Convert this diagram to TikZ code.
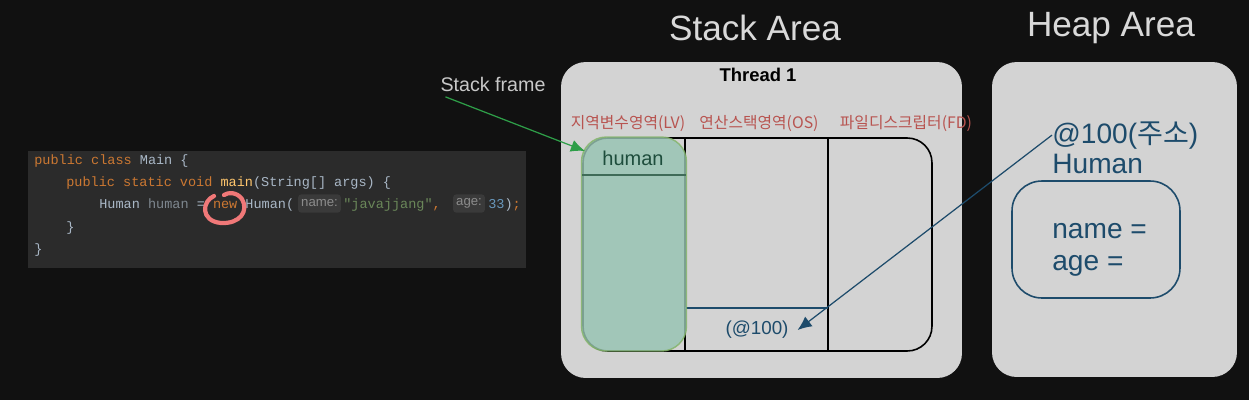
\documentclass[tikz,border=0pt]{standalone}
\usepackage{fontspec}
\setmainfont{Liberation Sans}
\setmonofont{Liberation Mono}
\newfontfamily\kr{Noto Sans CJK KR}
\usetikzlibrary{positioning,arrows.meta}

\definecolor{bgdark}{HTML}{111111}
\definecolor{codebg}{HTML}{2B2B2B}
\definecolor{kw}{HTML}{CC7832}
\definecolor{plain}{HTML}{A9B7C6}
\definecolor{fn}{HTML}{FFC66D}
\definecolor{str}{HTML}{6A8759}
\definecolor{num}{HTML}{6897BB}
\definecolor{unused}{HTML}{7E878F}
\definecolor{hintbg}{HTML}{3A3A3A}
\definecolor{hintfg}{HTML}{8C8C8C}
\definecolor{boxgray}{HTML}{D3D3D3}
\definecolor{lvfill}{HTML}{97C4B3}
\definecolor{lvline}{HTML}{82B366}
\definecolor{lvtext}{HTML}{1E4D3C}
\definecolor{lvdark}{HTML}{3F6B58}
\definecolor{areared}{HTML}{B85450}
\definecolor{navy}{HTML}{1D4B6B}
\definecolor{arrowgreen}{HTML}{2E9E48}
\definecolor{penred}{HTML}{F07878}
\definecolor{titlegray}{HTML}{D9D9D9}
\definecolor{labelgray}{HTML}{C8C8C8}

\begin{document}
\begin{tikzpicture}[x=0.02cm,y=-0.02cm,>={Latex[length=8pt,width=7pt]},
    title/.style={text=titlegray,font=\fontsize{20}{24}\selectfont},
    panelbox/.style={fill=boxgray,rounded corners=14pt,inner sep=0pt},
    code/.style={anchor=base west,inner sep=0pt,font=\ttfamily\fontsize{7.7}{9}\selectfont},
    hint/.style={fill=hintbg,rounded corners=2pt,text=hintfg,inner xsep=1.8pt,inner ysep=0pt,
        minimum height=10.5pt,font=\fontsize{7.5}{9}\selectfont},
    area/.style={text=areared,font=\kr\fontsize{9}{11}\selectfont},
    heaptext/.style={text=navy,anchor=base west,inner sep=0pt,font=\fontsize{16}{19}\selectfont}]
    \useasboundingbox (0,0) rectangle (1249,400);
    \fill[bgdark] (0,0) rectangle (1249,400);

    % code
    \node (codebox) [fill=codebg,minimum width=9.96cm,minimum height=2.34cm,inner sep=0pt] at (277,209.5) {};
    \node (l1) [code] at (34,164.5) {\textcolor{kw}{public class} \textcolor{plain}{Main \{}};
    \node (l2) [code] at (66,186.7) {\textcolor{kw}{public static void} \textcolor{fn}{main}\textcolor{plain}{(String[] args) \{}};
    \node (l3a) [code] at (99,208.9) {\textcolor{plain}{Human} \textcolor{unused}{human} \textcolor{plain}{=} \textcolor{kw}{new} \textcolor{plain}{Human(}};
    \node (hname) [hint] at (319.5,203.5) {name:};
    \node (l3b) [code] at (343,208.9) {\textcolor{str}{"javajjang"}\textcolor{kw}{,}};
    \node (hage) [hint] at (469,203.5) {age:};
    \node (l3c) [code] at (488,208.9) {\textcolor{num}{33}\textcolor{plain}{)}\textcolor{kw}{;}};
    \node (l4) [code] at (66,231.1) {\textcolor{plain}{\}}};
    \node (l5) [code] at (34,253.3) {\textcolor{plain}{\}}};
    \draw[penred,line width=2.4pt,line cap=round] (214,196) .. controls (202,201) and (200,221) .. (221,223)
        .. controls (240,224) and (249,211) .. (242,199) .. controls (237,192) and (228,192) .. (224,195);

    % areas
    \node (stacktitle) [title] at (755,28) {Stack Area};
    \node (heaptitle) [title] at (1111,28) {Heap Area};
    \node (thread) [panelbox,minimum width=8.02cm,minimum height=6.32cm] at (761.5,220) {};
    \node (heap) [panelbox,minimum width=4.9cm,minimum height=6.3cm] at (1114.5,219.5) {};
    \node (threadname) [font=\bfseries\fontsize{10.5}{12}\selectfont] at (758,75) {Thread 1};

    % stack frame
    \node (frame) [draw=black,line width=0.9pt,rounded corners=14pt,minimum width=6.98cm,
        minimum height=4.26cm,inner sep=0pt] at (757.5,244.5) {};
    \draw[line width=0.9pt] (685,138) -- (685,351);
    \draw[line width=0.9pt] (828,138) -- (828,351);
    \draw[navy,line width=0.9pt] (685,308) -- (828,308);
    \node (lv) [draw=lvline,draw opacity=0.8,line width=0.8pt,fill=lvfill,fill opacity=0.82,rounded corners=14pt,
        minimum width=2.1cm,minimum height=4.28cm,inner sep=0pt] at (634,244) {};
    \draw[lvdark,line width=0.8pt] (582,175) -- (686,175);
    \node (lvname) [text=lvtext,font=\fontsize{11.4}{13}\selectfont] at (633,158) {human};
    \node (ref) [text=navy,font=\fontsize{10.7}{13}\selectfont,inner sep=0pt,inner xsep=5pt] at (757,330) {(@100)};

    \node (lvlabel) [area] at (628,124) {지역변수영역(LV)};
    \node (oslabel) [area] at (759,124) {연산스택영역(OS)};
    \node (fdlabel) [area] at (906,124) {파일디스크립터(FD)};

    \node (sframe) [text=labelgray,font=\fontsize{11.2}{13}\selectfont,inner sep=0pt] at (493,84) {Stack frame};
    \coordinate (lvtip) at (585,151);
    \draw[->,arrowgreen,line width=0.7pt] ([xshift=3pt,yshift=-3pt]sframe.south west) -- (lvtip);

    % heap
    \node (addr) [heaptext] at (1052,143) {@100({\kr 주소})};
    \node (cls) [heaptext] at (1052,173) {Human};
    \node (fields) [draw=navy,line width=0.9pt,rounded corners=17pt,minimum width=3.36cm,
        minimum height=2.34cm,inner sep=0pt] at (1096,239.5) {};
    \node (namefield) [heaptext] at (1052,238) {name =};
    \node (agefield) [heaptext] at (1052,270) {age =};

    \draw[->,navy,line width=0.7pt] (addr.west) -- (ref.east);
\end{tikzpicture}
\end{document}
